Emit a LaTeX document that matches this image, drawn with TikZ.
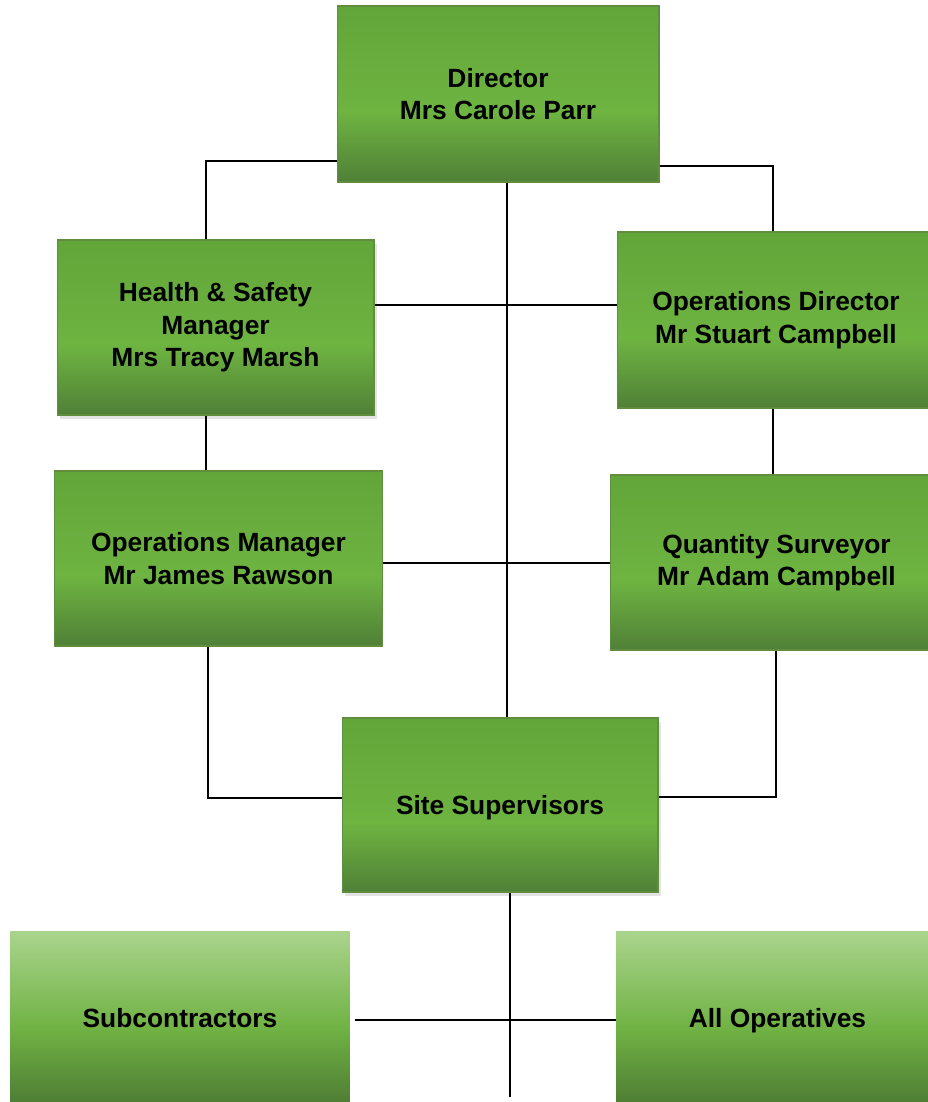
\documentclass[tikz,border=0pt]{standalone}
\usepackage{fontspec}
\setmainfont{Liberation Sans}
\usepackage{xcolor}
\usetikzlibrary{positioning,calc,shadows}
\definecolor{cGrnTop}{RGB}{ 98,165, 57}
\definecolor{cGrnMid}{RGB}{110,180, 65}
\definecolor{cGrnBot}{RGB}{ 80,128, 55}
\definecolor{cGrnLn}{RGB}{ 96,142, 62}
\definecolor{cLtTop}{RGB}{170,212,140}
\definecolor{cLtMid}{RGB}{112,178, 68}
\definecolor{cLtBot}{RGB}{ 78,124, 52}
% node spans 25bp..75bp of the 100bp shading
\pgfdeclareverticalshading{gBox}{100bp}{color(0bp)=(cGrnBot); color(25bp)=(cGrnBot);
  color(45bp)=(cGrnMid); color(75bp)=(cGrnTop); color(100bp)=(cGrnTop)}
\pgfdeclareverticalshading{gLite}{100bp}{color(0bp)=(cLtBot); color(25bp)=(cLtBot);
  color(47bp)=(cLtMid); color(75bp)=(cLtTop); color(100bp)=(cLtTop)}
\tikzset{
  blk/.style ={draw=cGrnLn,line width=0.6pt,shading=gBox,inner sep=0pt,align=center,
               font=\fontsize{15}{18.5}\selectfont\bfseries},
  lite/.style={blk,draw=none,shading=gLite},
  one/.style ={text depth=0pt},
  shd/.style ={drop shadow={opacity=0.22,shadow xshift=1.8pt,shadow yshift=-2.4pt}},
  link/.style={draw=black,line width=1.1pt},
}

\begin{document}
\begin{tikzpicture}[x=0.02cm,y=-0.02cm]
\useasboundingbox (0,0) rectangle (928,1102);
\clip (0,0) rectangle (928,1102);

%% boxes -- pixel grid of the sheet, y runs downwards
\node[blk,minimum width=6.44cm,minimum height=3.52cm] (dir) at (498,94) {Director\\Mrs Carole Parr};
\node[blk,shd,minimum width=6.34cm,minimum height=3.50cm] (hs) at (215.5,327.5) {Health \& Safety\\Manager\\Mrs Tracy Marsh};
\node[blk,minimum width=6.36cm,minimum height=3.52cm] (opd) at (776,320) {Operations Director\\Mr Stuart Campbell};
\node[blk,minimum width=6.58cm,minimum height=3.50cm] (opm) at (218.5,558.5) {Operations Manager\\Mr James Rawson};
\node[blk,minimum width=6.66cm,minimum height=3.50cm] (qs) at (776.5,562.5) {Quantity Surveyor\\Mr Adam Campbell};
\node[blk,shd,one,minimum width=6.32cm,minimum height=3.48cm] (ss) at (500,805) {Site Supervisors};
\node[lite,one,minimum width=6.80cm,minimum height=3.48cm] (sub) at (180,1018) {Subcontractors};
\node[lite,one,minimum width=6.46cm,minimum height=3.48cm] (ops) at (777.5,1018) {All Operatives};

%% knees and rows of the connectors
\coordinate (kL)  at (206,161);
\coordinate (kR)  at (773,166);
\coordinate (sp)  at (507,0);
\coordinate (r1)  at (0,305);
\coordinate (r2)  at (0,563);
\coordinate (kL2) at (208,798);
\coordinate (kR2) at (776,797);
\coordinate (tl)  at (510,1097);
\coordinate (r3)  at (355,1020);

\draw[link] (dir.west |- kL) -| (hs.north -| kL);
\draw[link] (dir.east |- kR) -| (opd.north -| kR);
\draw[link] (dir.south -| sp) -- (ss.north -| sp);
\draw[link] (hs.east |- r1) -- (opd.west |- r1);
\draw[link] (hs.south -| kL) -- (opm.north -| kL);
\draw[link] (opd.south -| kR) -- (qs.north -| kR);
\draw[link] (opm.east |- r2) -- (qs.west |- r2);
\draw[link] (opm.south -| kL2) |- (ss.west |- kL2);
\draw[link] (qs.south -| kR2) |- (ss.east |- kR2);
\draw[link] (ss.south -| tl) -- (tl);
\draw[link] (r3) -- (ops.west |- r3);

\end{tikzpicture}
\end{document}
